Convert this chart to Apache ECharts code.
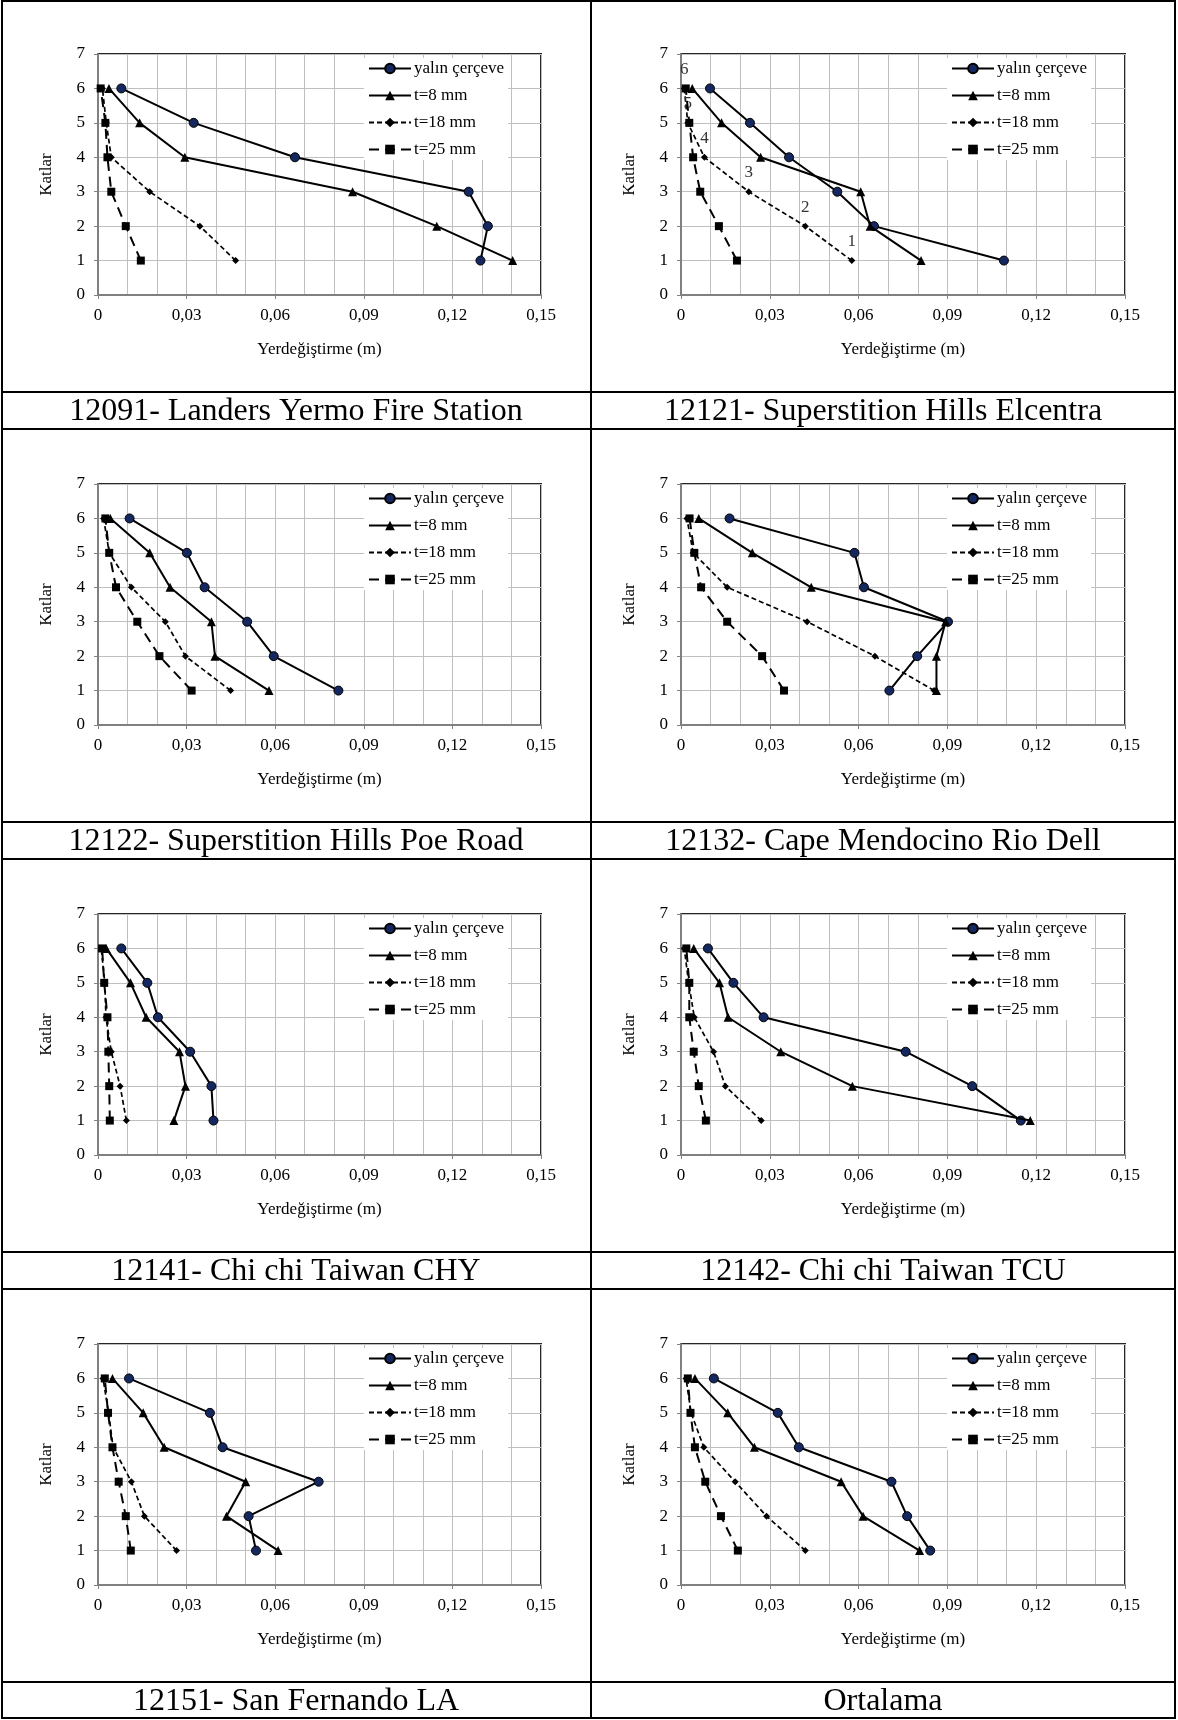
<!DOCTYPE html>
<html>
<head>
<meta charset="utf-8">
<script src="https://cdn.jsdelivr.net/npm/echarts@6/dist/echarts.min.js"></script>
<style>
html,body{margin:0;padding:0;background:#fff;}
#chart{width:1178px;height:1720px;}
</style>
</head>
<body>
<div id="chart"></div>
<script>
// ---- data ----
const floors = [1, 2, 3, 4, 5, 6];
const seriesNames = ['yalın çerçeve', 't=8 mm', 't=18 mm', 't=25 mm'];
const captions = [
  '12091- Landers Yermo Fire Station',
  '12121- Superstition Hills Elcentra',
  '12122- Superstition Hills Poe Road',
  '12132- Cape Mendocino Rio Dell',
  '12141- Chi chi Taiwan CHY',
  '12142- Chi chi Taiwan TCU',
  '12151- San Fernando LA',
  'Ortalama'
];
const xTicks = [0, 0.03, 0.06, 0.09, 0.12, 0.15];
const yTicks = [0, 1, 2, 3, 4, 5, 6, 7];

// values per floor 1..6 (m)
const p1_yalin = [0.1295, 0.1320, 0.1255, 0.0667, 0.0324, 0.0079];
const p1_t8    = [0.1404, 0.1147, 0.0862, 0.0294, 0.0141, 0.0037];
const p1_t18   = [0.0466, 0.0345, 0.0175, 0.0045, 0.0028, 0.0015];
const p1_t25   = [0.0145, 0.0094, 0.0045, 0.0032, 0.0025, 0.0009];

const p2_yalin = [0.1091, 0.0652, 0.0528, 0.0365, 0.0233, 0.0098];
const p2_t8    = [0.0811, 0.0639, 0.0607, 0.0269, 0.0137, 0.0038];
const p2_t18   = [0.0577, 0.0420, 0.0229, 0.0079, 0.0023, 0.0011];
const p2_t25   = [0.0189, 0.0128, 0.0065, 0.0041, 0.0028, 0.0016];

const p3_yalin = [0.0814, 0.0595, 0.0505, 0.0361, 0.0301, 0.0107];
const p3_t8    = [0.0579, 0.0396, 0.0384, 0.0244, 0.0175, 0.0042];
const p3_t18   = [0.0449, 0.0296, 0.0228, 0.0113, 0.0038, 0.0019];
const p3_t25   = [0.0317, 0.0208, 0.0133, 0.0061, 0.0038, 0.0025];

const p4_yalin = [0.0704, 0.0798, 0.0902, 0.0618, 0.0586, 0.0164];
const p4_t8    = [0.0863, 0.0863, 0.0894, 0.0440, 0.0241, 0.0060];
const p4_t18   = [0.0855, 0.0655, 0.0426, 0.0156, 0.0041, 0.0020];
const p4_t25   = [0.0348, 0.0274, 0.0156, 0.0068, 0.0045, 0.0029];

const p5_yalin = [0.0391, 0.0384, 0.0312, 0.0203, 0.0167, 0.0079];
const p5_t8    = [0.0257, 0.0296, 0.0276, 0.0163, 0.0110, 0.0028];
const p5_t18   = [0.0096, 0.0075, 0.0045, 0.0027, 0.0023, 0.0011];
const p5_t25   = [0.0040, 0.0038, 0.0035, 0.0032, 0.0021, 0.0014];

const p6_yalin = [0.1148, 0.0984, 0.0759, 0.0279, 0.0177, 0.0091];
const p6_t8    = [0.1180, 0.0579, 0.0337, 0.0159, 0.0130, 0.0043];
const p6_t18   = [0.0271, 0.0150, 0.0110, 0.0045, 0.0026, 0.0011];
const p6_t25   = [0.0084, 0.0060, 0.0043, 0.0028, 0.0028, 0.0018];

const p7_yalin = [0.0535, 0.0510, 0.0747, 0.0422, 0.0379, 0.0105];
const p7_t8    = [0.0610, 0.0435, 0.0500, 0.0224, 0.0153, 0.0049];
const p7_t18   = [0.0266, 0.0157, 0.0113, 0.0051, 0.0036, 0.0017];
const p7_t25   = [0.0111, 0.0094, 0.0070, 0.0049, 0.0034, 0.0023];

const p8_yalin = [0.0842, 0.0764, 0.0711, 0.0398, 0.0327, 0.0111];
const p8_t8    = [0.0806, 0.0615, 0.0541, 0.0248, 0.0158, 0.0047];
const p8_t18   = [0.0420, 0.0289, 0.0183, 0.0077, 0.0034, 0.0017];
const p8_t25   = [0.0192, 0.0135, 0.0082, 0.0047, 0.0032, 0.0023];

const panels = [
  [p1_yalin, p1_t8, p1_t18, p1_t25],
  [p2_yalin, p2_t8, p2_t18, p2_t25],
  [p3_yalin, p3_t8, p3_t18, p3_t25],
  [p4_yalin, p4_t8, p4_t18, p4_t25],
  [p5_yalin, p5_t8, p5_t18, p5_t25],
  [p6_yalin, p6_t8, p6_t18, p6_t25],
  [p7_yalin, p7_t8, p7_t18, p7_t25],
  [p8_yalin, p8_t8, p8_t18, p8_t25]
];
// panel index whose t=18 series shows floor-number labels
const labelledPanel = 1;

// ---- layout ----
const FONT = '"Liberation Serif", "Times New Roman", serif';
const ROW_PITCH = 430;
const colPlotLeft = [98, 681];
const colPlotWidth = [443, 444];
const plotTop = 54, plotHeight = 241;
const colCenter = [296, 883];
const captionTop = 392, captionH = 37;
const leftEdge = 2, rightEdge = 1175, midX = 591, topEdge = 1, bottomEdge = 1718;

const styles = [
  { symbol: 'circle', symbolSize: 9, lineStyle: { color: '#000', width: 2, type: 'solid' }, itemStyle: { color: '#14275f', borderColor: '#000', borderWidth: 1 } },
  { symbol: 'triangle', symbolSize: 9, lineStyle: { color: '#000', width: 2, type: 'solid' }, itemStyle: { color: '#000', borderColor: '#000', borderWidth: 0 } },
  { symbol: 'diamond', symbolSize: 7, lineStyle: { color: '#000', width: 1.7, type: [5, 3] }, itemStyle: { color: '#000', borderColor: '#000', borderWidth: 0 } },
  { symbol: 'rect', symbolSize: 8, lineStyle: { color: '#000', width: 2, type: [10, 6] }, itemStyle: { color: '#000', borderColor: '#000', borderWidth: 0 } }
];

const grids = [], xAxes = [], yAxes = [], series = [], legends = [], graphics = [];

panels.forEach((pd, i) => {
  const r = Math.floor(i / 2), c = i % 2;
  const off = r * ROW_PITCH;
  grids.push({
    left: colPlotLeft[c], top: plotTop + off, width: colPlotWidth[c], height: plotHeight,
    show: true, borderColor: '#262626', borderWidth: 2, backgroundColor: 'transparent'
  });
  xAxes.push({
    type: 'value', gridIndex: i, min: xTicks[0], max: xTicks[xTicks.length - 1], interval: xTicks[1] - xTicks[0],
    name: 'Yerdeğiştirme (m)', nameLocation: 'middle', nameGap: 46,
    nameTextStyle: { fontFamily: FONT, fontSize: 17, color: '#000' },
    axisLine: { show: true, onZero: false, lineStyle: { color: '#808080', width: 2 } },
    axisTick: { show: true, length: 4, lineStyle: { color: '#808080' } },
    axisLabel: { fontFamily: FONT, fontSize: 17, color: '#000', margin: 12,
      formatter: v => v === 0 ? '0' : v.toFixed(2).replace('.', ',') },
    splitLine: { show: true, lineStyle: { color: '#bfbfbf', width: 1 } },
    minorTick: { show: false, splitNumber: 3 },
    minorSplitLine: { show: true, lineStyle: { color: '#bfbfbf', width: 1 } }
  });
  yAxes.push({
    type: 'value', gridIndex: i, min: yTicks[0], max: yTicks[yTicks.length - 1], interval: 1,
    name: 'Katlar', nameLocation: 'middle', nameGap: 43, nameRotate: 90,
    nameTextStyle: { fontFamily: FONT, fontSize: 17, color: '#000' },
    axisLine: { show: true, onZero: false, lineStyle: { color: '#808080', width: 2 } },
    axisTick: { show: true, length: 4, lineStyle: { color: '#808080' } },
    axisLabel: { fontFamily: FONT, fontSize: 17, color: '#000', margin: 13 },
    splitLine: { show: true, lineStyle: { color: '#bfbfbf', width: 1 } }
  });
  pd.forEach((vals, k) => {
    const s = {
      type: 'line', name: seriesNames[k], xAxisIndex: i, yAxisIndex: i,
      data: vals.map((v, j) => [v, floors[j]]),
      symbol: styles[k].symbol, symbolSize: styles[k].symbolSize,
      showAllSymbol: true, animation: false,
      lineStyle: styles[k].lineStyle, itemStyle: styles[k].itemStyle,
      emphasis: { disabled: true }, z: 3 + k
    };
    if (i === labelledPanel && k === 2) {
      s.label = { show: true, position: 'top', distance: 7, fontFamily: FONT, fontSize: 17, color: '#333',
        formatter: p => String(p.value[1]) };
    }
    series.push(s);
  });
  legends.push({
    data: seriesNames, orient: 'vertical',
    left: colPlotLeft[c] + 266, top: plotTop + off + 4,
    itemWidth: 42, itemHeight: 12, itemGap: 10,
    backgroundColor: '#fff', padding: [2, 4, 2, 4],
    textStyle: { fontFamily: FONT, fontSize: 17, color: '#000', padding: [0, 0, 0, -2] },
    selectedMode: false
  });
  graphics.push({
    type: 'text', x: colCenter[c], y: captionTop + off + captionH / 2 + 1,
    style: { text: captions[i], font: '32px ' + FONT, fill: '#000', textAlign: 'center', textVerticalAlign: 'middle' }
  });
});

// table borders
const lineStyle = { stroke: '#000', lineWidth: 2 };
graphics.push({ type: 'rect', shape: { x: leftEdge, y: topEdge, width: rightEdge - leftEdge, height: bottomEdge - topEdge }, style: { fill: 'none', stroke: '#000', lineWidth: 2 } });
graphics.push({ type: 'line', shape: { x1: midX, y1: topEdge, x2: midX, y2: bottomEdge }, style: lineStyle });
for (let r = 0; r < 4; r++) {
  const y1 = captionTop + r * ROW_PITCH, y2 = y1 + captionH;
  graphics.push({ type: 'line', shape: { x1: leftEdge, y1: y1, x2: rightEdge, y2: y1 }, style: lineStyle });
  if (r < 3) graphics.push({ type: 'line', shape: { x1: leftEdge, y1: y2, x2: rightEdge, y2: y2 }, style: lineStyle });
}

const chart = echarts.init(document.getElementById('chart'), null, { renderer: 'canvas' });
chart.setOption({
  animation: false,
  backgroundColor: '#fff',
  grid: grids, xAxis: xAxes, yAxis: yAxes, series: series, legend: legends,
  graphic: graphics
});
</script>
</body>
</html>
